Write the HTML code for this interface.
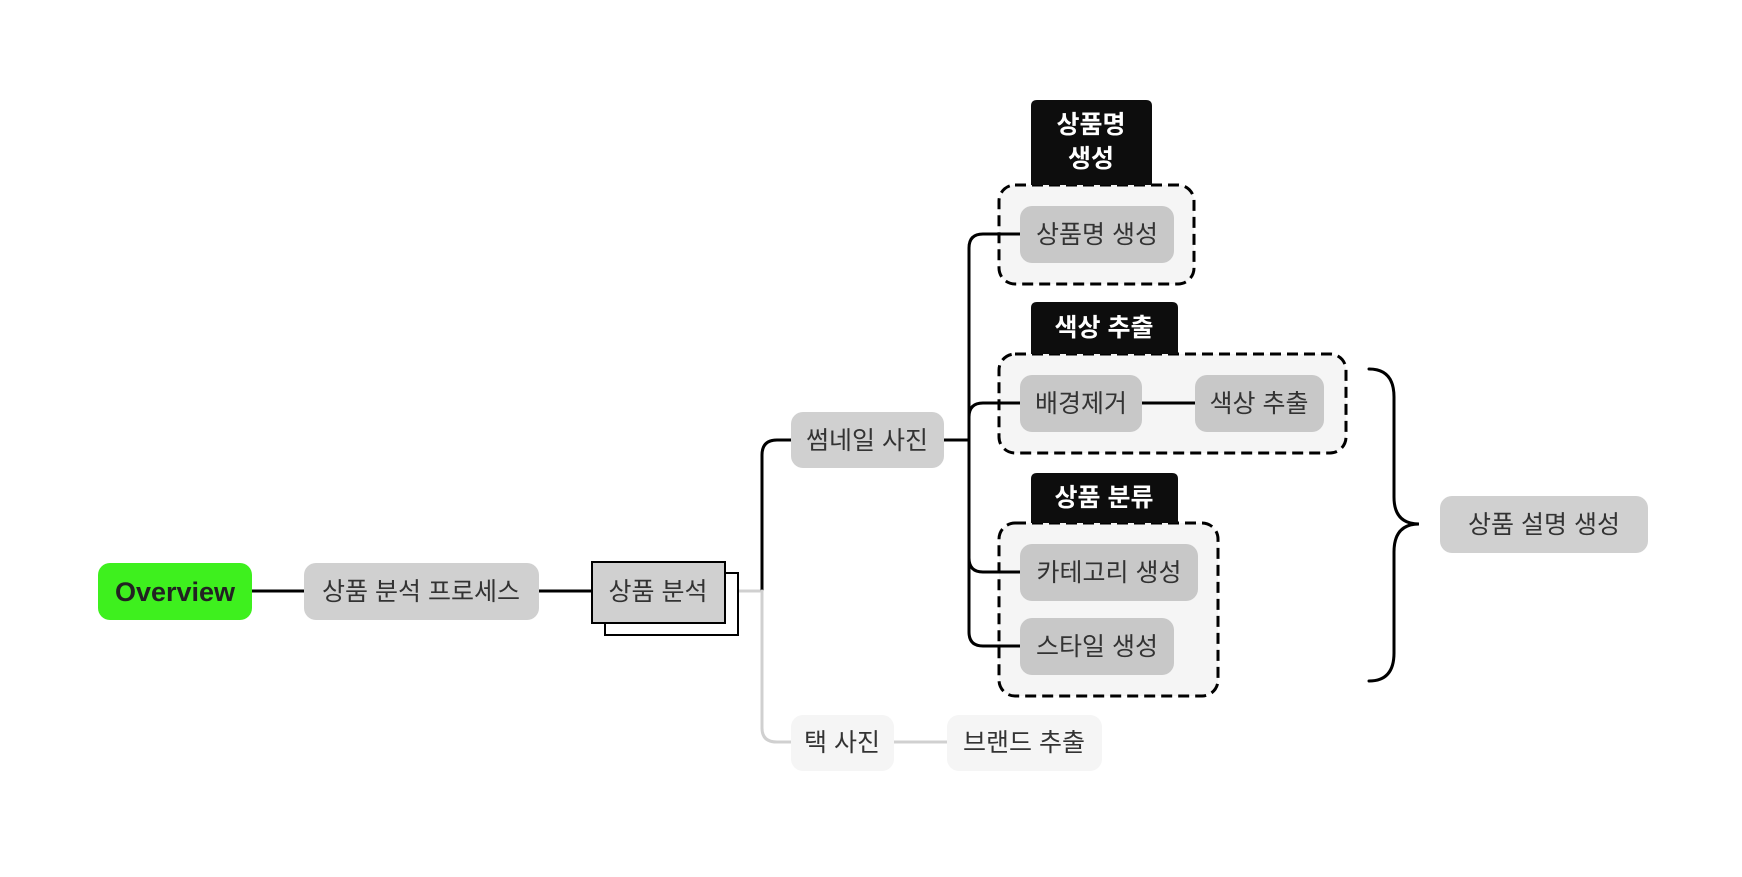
<!DOCTYPE html>
<html><head><meta charset="utf-8"><style>
html,body{margin:0;padding:0;background:#fff;}
svg text{font-family:"Liberation Sans","Noto Sans CJK KR",sans-serif;}
</style></head><body>
<svg width="1742" height="872" viewBox="0 0 1742 872" xmlns="http://www.w3.org/2000/svg">
<g transform="translate(-2,-3)">
<g fill="none" stroke-linecap="round">
<line x1="254" y1="594" x2="306" y2="594" stroke="#000" stroke-width="3"/>
<line x1="541" y1="594" x2="594" y2="594" stroke="#000" stroke-width="3"/>
<line x1="740" y1="594" x2="764" y2="594" stroke="#d0d0d0" stroke-width="3"/>
<path d="M764 594 V458 Q764 443 779 443 H793" stroke="#000" stroke-width="3"/>
<path d="M764 594 V731 Q764 745 779 745 H793" stroke="#d0d0d0" stroke-width="3"/>
<line x1="896" y1="745" x2="949" y2="745" stroke="#d0d0d0" stroke-width="3"/>
<line x1="946" y1="443" x2="971" y2="443" stroke="#000" stroke-width="3"/>
<path d="M1371 372 Q1396 372 1396 400 V500 Q1396 527 1421 527 Q1396 527 1396 555 V656 Q1396 684 1371 684" stroke="#000" stroke-width="3"/>
</g>
<rect x="1001" y="188" width="195" height="99" rx="16" fill="#f5f5f5" stroke="#000" stroke-width="3" stroke-dasharray="11 6"/>
<rect x="1001" y="357" width="347" height="99" rx="16" fill="#f5f5f5" stroke="#000" stroke-width="3" stroke-dasharray="11 6"/>
<rect x="1001" y="526" width="219" height="173" rx="16" fill="#f5f5f5" stroke="#000" stroke-width="3" stroke-dasharray="11 6"/>
<g fill="none" stroke-linecap="round">
<path d="M1022 237 H985 Q971 237 971 251 V635 Q971 649 985 649 H1022" stroke="#000" stroke-width="3"/>
<path d="M1022 406 H985 Q971 406 971 420" stroke="#000" stroke-width="3"/>
<path d="M971 561 Q971 575 985 575 H1022" stroke="#000" stroke-width="3"/>
<line x1="1144" y1="406" x2="1197" y2="406" stroke="#000" stroke-width="3"/>
</g>
<path d="M1033 188 V109 Q1033 103 1039 103 H1148 Q1154 103 1154 109 V188 Z" fill="#0d0d0d"/>
<path d="M1033 357 V311 Q1033 305 1039 305 H1174 Q1180 305 1180 311 V357 Z" fill="#0d0d0d"/>
<path d="M1033 526 V482 Q1033 476 1039 476 H1174 Q1180 476 1180 482 V526 Z" fill="#0d0d0d"/>
<g font-size="25" fill="#fff" text-anchor="middle" font-weight="bold">
<text x="1093" y="136">상품명</text>
<text x="1093" y="170">생성</text>
<text x="1106" y="339">색상 추출</text>
<text x="1106" y="509">상품 분류</text>
</g>
<rect x="100" y="566" width="154" height="57" rx="12" fill="#3ef01e"/>
<text x="177" y="604" font-size="27" font-weight="bold" fill="#222" text-anchor="middle">Overview</text>
<g fill="#d0d0d0">
<rect x="306" y="566" width="235" height="57" rx="12"/>
<rect x="793" y="415" width="153" height="56" rx="12"/>
<rect x="1022" y="209" width="154" height="57" rx="12" fill="#c8c8c8"/>
<rect x="1022" y="378" width="122" height="57" rx="12" fill="#c8c8c8"/>
<rect x="1197" y="378" width="129" height="57" rx="12" fill="#c8c8c8"/>
<rect x="1022" y="547" width="178" height="57" rx="12" fill="#c8c8c8"/>
<rect x="1022" y="621" width="154" height="57" rx="12" fill="#c8c8c8"/>
<rect x="1442" y="499" width="208" height="57" rx="12"/>
</g>
<rect x="793" y="718" width="103" height="56" rx="12" fill="#f5f5f5"/>
<rect x="949" y="718" width="155" height="56" rx="12" fill="#f5f5f5"/>
<rect x="607" y="576" width="133" height="62" fill="#fff" stroke="#000" stroke-width="2"/>
<rect x="594" y="565" width="133" height="61" fill="#d0d0d0" stroke="#000" stroke-width="2"/>
<g font-size="25" fill="#333" text-anchor="middle">
<text x="423" y="603">상품 분석 프로세스</text>
<text x="660" y="603">상품 분석</text>
<text x="869" y="452">썸네일 사진</text>
<text x="844" y="754">택 사진</text>
<text x="1026" y="754">브랜드 추출</text>
<text x="1099" y="246">상품명 생성</text>
<text x="1083" y="415">배경제거</text>
<text x="1261" y="415">색상 추출</text>
<text x="1111" y="584">카테고리 생성</text>
<text x="1099" y="658">스타일 생성</text>
<text x="1546" y="536">상품 설명 생성</text>
</g>
</g>
</svg>
</body></html>
